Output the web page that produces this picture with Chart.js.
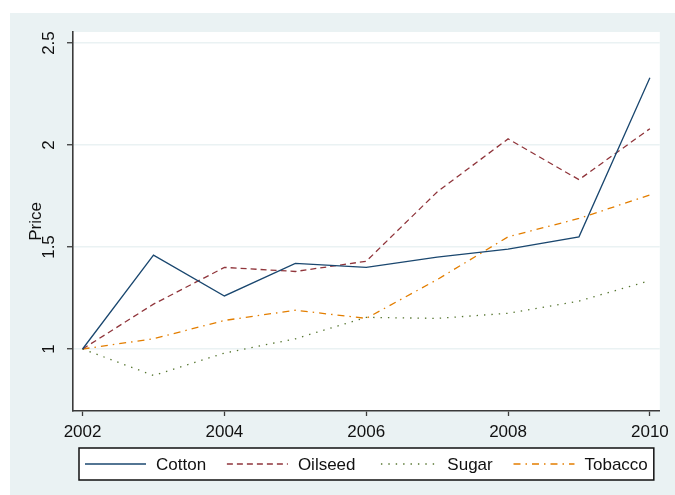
<!DOCTYPE html>
<html>
<head>
<meta charset="utf-8">
<script src="https://cdn.jsdelivr.net/npm/chart.js@4/dist/chart.umd.min.js"></script>
<style>
  html, body { margin: 0; padding: 0; background: #ffffff; }
  #wrap { position: absolute; left: 10px; top: 13px; width: 665px; height: 482px; background: #eaf2f3; }
  canvas { display: block; }
</style>
</head>
<body>
<div id="wrap"><canvas id="c" width="665" height="482"></canvas></div>
<script>
// Crop price indices, 2002 = 1
const years   = [2002, 2003, 2004, 2005, 2006, 2007, 2008, 2009, 2010];
const cotton  = [1.00, 1.46, 1.26, 1.42, 1.40, 1.45, 1.49, 1.55, 2.33];
const oilseed = [1.00, 1.22, 1.40, 1.38, 1.43, 1.77, 2.03, 1.83, 2.08];
const sugar   = [1.00, 0.87, 0.98, 1.05, 1.155, 1.15, 1.175, 1.235, 1.335];
const tobacco = [1.00, 1.05, 1.14, 1.19, 1.15, 1.34, 1.55, 1.64, 1.755];

const yearTicks  = [2002, 2004, 2006, 2008, 2010];
const priceTicks = [1, 1.5, 2, 2.5];
const yTitle = 'Price';

const FONT = 'Liberation Sans, Arial, sans-serif';
const AXIS_COLOR = '#3a3a3a';
const TEXT_COLOR = '#111111';

const pts = vals => years.map((y, i) => ({ x: y, y: vals[i] }));

function series(label, vals, color, dash) {
  return {
    label,
    data: pts(vals),
    borderColor: color,
    backgroundColor: color,
    borderWidth: 1.3,
    borderDash: dash,
    borderCapStyle: 'butt',
    pointRadius: 0,
    pointHoverRadius: 0,
    tension: 0,
    fill: false
  };
}

// White plot region behind the data
const plotPanel = {
  id: 'plotPanel',
  beforeDraw(chart) {
    const { ctx, chartArea: a } = chart;
    ctx.save();
    ctx.fillStyle = '#ffffff';
    ctx.fillRect(a.left, a.top, a.right - a.left, a.bottom - a.top);
    ctx.restore();
  }
};

// Framed one-row key under the plot, built from the datasets' own styles
const framedKey = {
  id: 'framedKey',
  afterDraw(chart) {
    const { ctx, chartArea: a } = chart;
    const sample = 61, gap = 10;
    const x0 = a.left + 6, x1 = a.right - 6;
    const yc = chart.height - 31;
    ctx.save();
    ctx.fillStyle = '#ffffff';
    ctx.fillRect(x0, yc - 16, x1 - x0, 32);
    ctx.strokeStyle = '#111111';
    ctx.lineWidth = 1.5;
    ctx.setLineDash([]);
    ctx.strokeRect(x0, yc - 16, x1 - x0, 32);

    ctx.font = '17px ' + FONT;
    const sets = chart.data.datasets;
    const widths = sets.map(d => sample + gap + ctx.measureText(d.label).width);
    const total = x1 - x0 - 12;
    const used = widths.reduce((s, w) => s + w, 0);
    const between = (total - used) / (sets.length - 1);
    let x = x0 + 6;
    sets.forEach((d, i) => {
      ctx.save();
      ctx.strokeStyle = d.borderColor;
      ctx.lineWidth = d.borderWidth;
      ctx.lineCap = 'butt';
      ctx.setLineDash(d.borderDash || []);
      ctx.lineDashOffset = d.keyDashOffset || 0;
      ctx.beginPath();
      ctx.moveTo(x, yc);
      ctx.lineTo(x + sample, yc);
      ctx.stroke();
      ctx.restore();
      ctx.fillStyle = TEXT_COLOR;
      ctx.textBaseline = 'middle';
      ctx.textAlign = 'left';
      ctx.fillText(d.label, x + sample + gap, yc + 1);
      x += widths[i] + between;
    });
    ctx.restore();
  }
};

const sugarSet = series('Sugar', sugar, '#55752f', [1.4, 6]);
sugarSet.keyDashOffset = -12;

new Chart(document.getElementById('c'), {
  type: 'line',
  data: {
    datasets: [
      series('Cotton', cotton, '#1a476f', []),
      series('Oilseed', oilseed, '#90353b', [6, 4]),
      sugarSet,
      series('Tobacco', tobacco, '#e37e00', [7, 5, 1.5, 5])
    ]
  },
  options: {
    responsive: false,
    animation: false,
    events: [],
    layout: { padding: { top: 19, right: 12, bottom: 52, left: 0 } },
    scales: {
      x: {
        type: 'linear',
        min: 2001.865,
        max: 2010.14,
        afterBuildTicks: s => { s.ticks = yearTicks.map(v => ({ value: v })); },
        afterFit: s => { s.height = 32; },
        ticks: {
          callback: v => String(v),
          font: { family: FONT, size: 17 },
          color: TEXT_COLOR,
          padding: 6,
          maxRotation: 0,
          autoSkip: false
        },
        grid: { drawOnChartArea: false, drawTicks: true, tickLength: 5, tickColor: AXIS_COLOR, tickWidth: 1.3 },
        border: { display: true, color: AXIS_COLOR, width: 1.6 }
      },
      y: {
        type: 'linear',
        min: 0.696,
        max: 2.554,
        afterBuildTicks: s => { s.ticks = priceTicks.map(v => ({ value: v })); },
        afterFit: s => { s.width = 63; },
        ticks: {
          callback: v => String(v),
          font: { family: FONT, size: 17 },
          color: TEXT_COLOR,
          minRotation: 90,
          maxRotation: 90,
          crossAlign: 'center',
          padding: 6,
          autoSkip: false
        },
        grid: { color: '#eaf2f3', lineWidth: 1.5, drawTicks: true, tickLength: 6, tickColor: AXIS_COLOR, tickWidth: 1.3 },
        border: { display: true, color: AXIS_COLOR, width: 1.6 },
        title: {
          display: true,
          text: yTitle,
          font: { family: FONT, size: 17 },
          color: TEXT_COLOR,
          padding: { top: 16, bottom: 0 }
        }
      }
    },
    plugins: {
      tooltip: { enabled: false },
      legend: { display: false }
    }
  },
  plugins: [plotPanel, framedKey]
});
</script>
</body>
</html>
